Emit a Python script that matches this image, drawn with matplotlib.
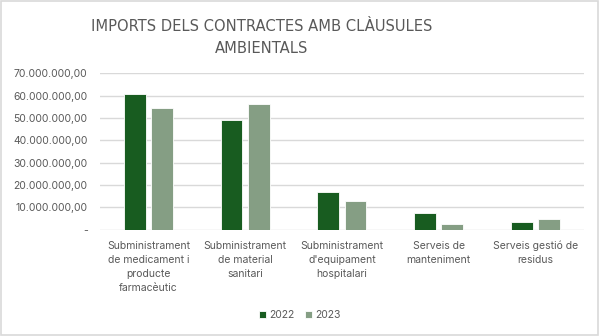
import numpy as np
import matplotlib.pyplot as plt
from matplotlib.ticker import FuncFormatter

categories = ["Subministrament\nde medicament i\nproducte\nfarmacèutic",
              "Subministrament\nde material\nsanitari",
              "Subministrament\nd'equipament\nhospitalari",
              "Serveis de\nmanteniment",
              "Serveis gestió de\nresidus"]
v2022 = [60.6e6, 49.2e6, 16.9e6, 7.3e6, 3.6e6]
v2023 = [54.3e6, 56.4e6, 12.8e6, 2.6e6, 4.8e6]
years = ["2022", "2023"]
title_lines = ["IMPORTS DELS CONTRACTES AMB CLÀUSULES", "AMBIENTALS"]

plt.rcParams["font.family"] = ["Inter", "DejaVu Sans"]
grey = "#595959"

fig = plt.figure(figsize=(6, 3.36), dpi=100)
fig.patches.append(plt.Rectangle((0.002, 0.003), 0.995, 0.993, transform=fig.transFigure,
                                 fill=False, edgecolor="#d9d9d9", lw=1.2))
ax = fig.add_axes([0.1667, 0.3164, 0.8063, 0.4656])

x = np.arange(len(categories))
w = 0.225
ax.bar(x - 0.14, v2022, w, color="#185c20", edgecolor="white", lw=0.6, label=years[0], zorder=3)
ax.bar(x + 0.14, v2023, w, color="#859e84", edgecolor="white", lw=0.6, label=years[1], zorder=3)

ax.set_xlim(-0.5, len(categories) - 0.5)
ax.set_ylim(0, 70e6)
ax.set_yticks(np.arange(0, 70e6 + 1, 10e6))

def fmt(v, pos):
    if v == 0:
        return "-"
    return f"{v:,.2f}".replace(",", "X").replace(".", ",").replace("X", ".")

ax.yaxis.set_major_formatter(FuncFormatter(fmt))
ax.grid(axis="y", color="#d9d9d9", lw=1, zorder=0)
for s in ax.spines.values():
    s.set_visible(False)
ax.tick_params(axis="both", length=0, colors=grey, labelsize=7.5)
ax.tick_params(axis="y", pad=9)
ax.set_xticks(x)
ax.set_xticklabels(categories, linespacing=1.5)
ax.tick_params(axis="x", pad=8)

for yy, line in zip([0.9077, 0.8414], title_lines):
    fig.text(0.436, yy, line, ha="center", va="baseline", fontsize=11.8, color=grey,
             family="DejaVu Sans", fontstretch="condensed")
fig.legend(loc="lower center", bbox_to_anchor=(0.5, 0.02), ncol=2, frameon=False,
           fontsize=7.5, labelcolor=grey, handlelength=0.7, handleheight=0.7,
           handletextpad=0.3, columnspacing=1.0)

fig.savefig("out.png", dpi=100)
